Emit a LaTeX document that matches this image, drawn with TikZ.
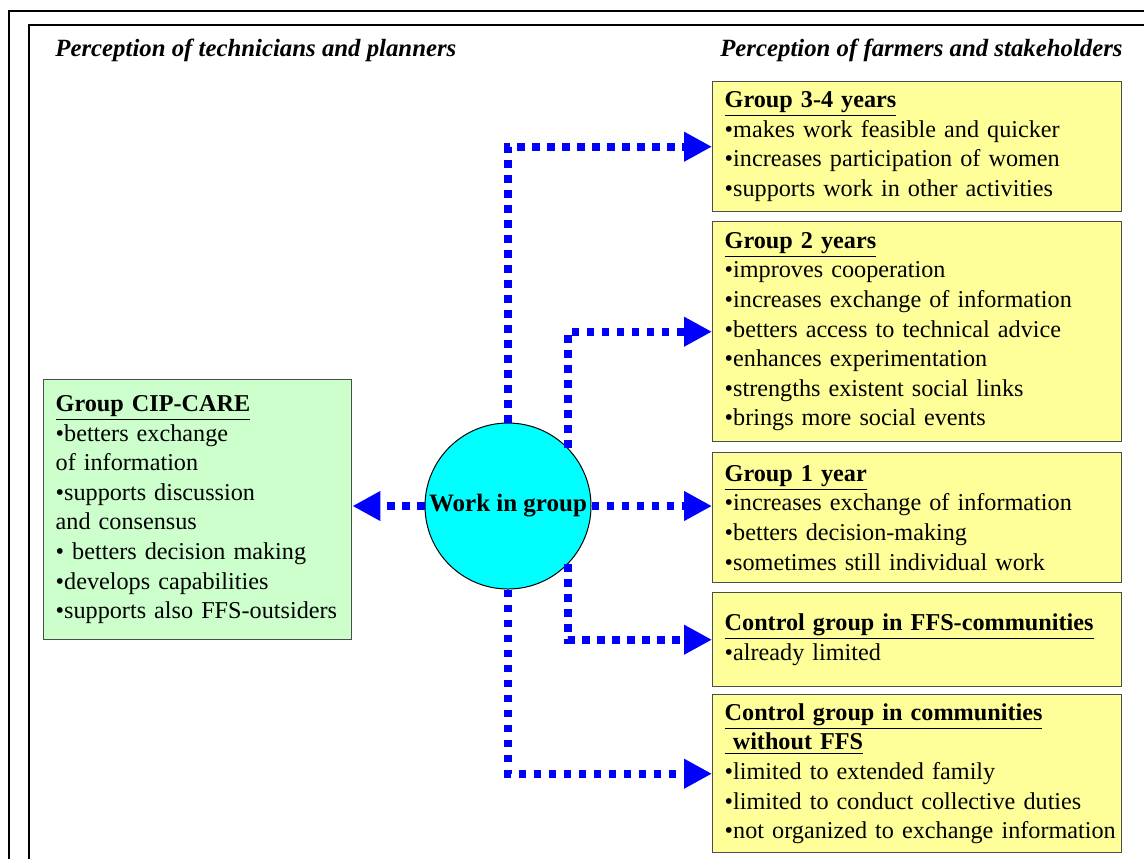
\documentclass[tikz,border=0pt]{standalone}
\usepackage{fontspec}
\setmainfont{Liberation Serif}
\usetikzlibrary{arrows.meta}
\definecolor{farmyellow}{RGB}{255,255,153}
\definecolor{techgreen}{RGB}{204,255,204}
\definecolor{flowblue}{RGB}{0,0,255}
\definecolor{groupcyan}{RGB}{0,255,255}

\begin{document}
\begin{tikzpicture}[x=0.5pt,y=-0.5pt,
    font=\fontsize{12.1pt}{14.8pt}\selectfont,
    farmbox/.style={draw=black!70, line width=0.7pt, fill=farmyellow,
      anchor=north west, align=left, text width=204.5pt,
      inner xsep=0pt, inner ysep=0pt, minimum height=#1,
      execute at begin node={\leftskip=6pt\relax}},
    techbox/.style={farmbox=#1, fill=techgreen, text width=154pt},
    flow/.style={draw=flowblue, line width=3.8pt, line cap=butt,
      dash pattern=on 3.8pt off 3.7pt,
      -{Triangle[length=14pt,width=14pt]}},
    heading/.style={font=\fontsize{12.4pt}{14.8pt}\selectfont\bfseries\itshape, inner sep=0pt}
  ]
  \useasboundingbox (0,0) rectangle (1144,859);

  % frames
  \draw[line width=1pt] (9,859) -- (9,11) -- (1144,11);
  \draw[line width=1pt] (29,859) -- (29,25) -- (1144,25);

  % headings
  \node[heading, anchor=base west] (hleft) at (55,56) {Perception of technicians and planners};
  \node[heading, anchor=base east] (hright) at (1123,56) {Perception of farmers and stakeholders};

  % farmers boxes
  \node[farmbox=65pt] (g34) at (712,81) {\textbf{\underline{Group 3-4 years}}\\
    •makes work feasible and quicker\\
    •increases participation of women\\
    •supports work in other activities};
  \node[farmbox=110pt] (g2) at (712,221) {\textbf{\underline{Group 2 years}}\\
    •improves cooperation\\
    •increases exchange of information\\
    •betters access to technical advice\\
    •enhances experimentation\\
    •strengths existent social links\\
    •brings more social events};
  \node[farmbox=65pt] (g1) at (712,452) {\textbf{\underline{Group 1 year}}\\
    •increases exchange of information\\
    •betters decision-making\\
    •sometimes still individual work};
  \node[farmbox=47pt] (cffs) at (712,592) {\textbf{\underline{Control group in FFS-communities}}\\
    •already limited};
  \node[farmbox=79pt] (cnoffs) at (712,694) {\textbf{\underline{Control group in communities}}\\
    \textbf{\underline{\ without FFS}}\\
    •limited to extended family\\
    •limited to conduct collective duties\\
    •not organized to exchange information};

  % technicians box
  \node[techbox=130pt] (cip) at (43,379) {\textbf{\underline{Group CIP-CARE}}\\
    •betters exchange\\
    of information\\
    •supports discussion\\
    and consensus\\
    • betters decision making\\
    •develops capabilities\\
    •supports also FFS-outsiders};

  % centre
  \node[circle, draw, line width=0.5pt, fill=groupcyan, minimum size=83pt, inner sep=0pt,
    font=\fontsize{12.5pt}{14.8pt}\selectfont\bfseries] (wig) at (508,506) {Work in group};

  % connectors
  \draw[flow] (wig.north) |- (g34.west);
  \draw[flow] (wig.44) |- (g2.west);
  \draw[flow] (wig.east) -- (wig.east -| g1.west);
  \draw[flow] (wig.-44) |- (cffs.west);
  \draw[flow] (wig.south) |- (cnoffs.west);
  \draw[flow] (wig.west) -- (wig.west -| cip.east);
\end{tikzpicture}
\end{document}
